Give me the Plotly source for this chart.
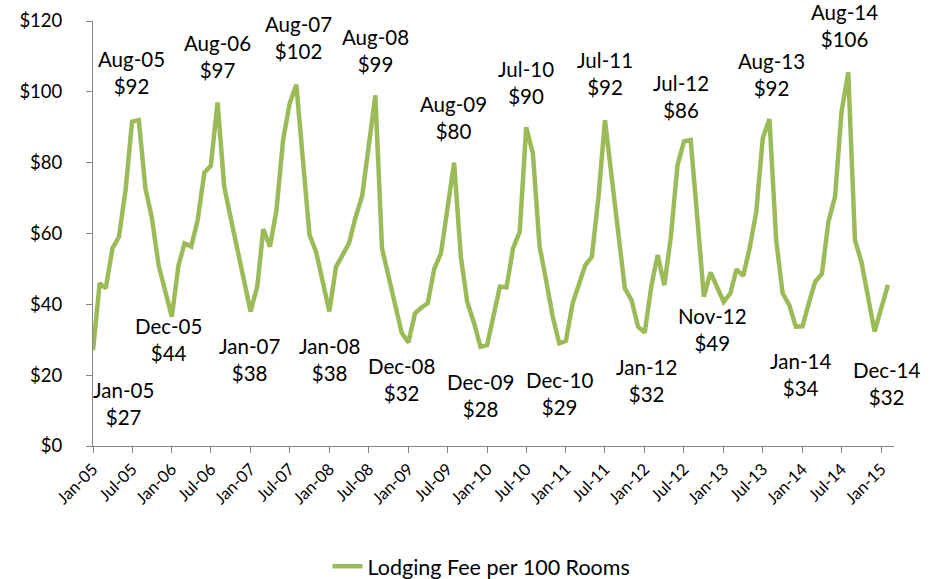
import pandas as pd
import plotly.graph_objects as go

# Monthly lodging fee per 100 rooms, Jan-2005 .. Feb-2015
fee = [
    27, 46, 44.5, 55.8, 59, 72.3, 91.6, 92, 72.7, 64.3, 51, 44,            # 2005
    36.5, 51, 57.2, 56.3, 63.8, 77.2, 79.1, 97, 73.2, 64.4, 55.6, 46.8,     # 2006
    38, 45, 61.2, 56.3, 66.6, 86.6, 96.7, 102, 80, 59.6, 54.7, 46,          # 2007
    38, 50.6, 54, 57.2, 64.5, 70.6, 84.5, 99, 55.8, 47.8, 39.3, 32,         # 2008
    29.2, 37.5, 39, 40.3, 50, 54.4, 67, 80, 53.5, 40.6, 34.8, 28,           # 2009
    28.5, 36.5, 45, 44.8, 55.8, 60.5, 90, 82.6, 56.3, 46.9, 36.5, 29,       # 2010
    29.7, 40.3, 45, 51.1, 53.4, 70.4, 92, 76, 60.3, 44.5, 41.2, 33.7,       # 2011
    32, 45.2, 53.9, 45.4, 59, 79.3, 86, 86.4, 64.3, 42.2, 49, 45,           # 2012
    40.7, 43.1, 49.9, 48, 55.8, 66.2, 86.9, 92.3, 58.2, 43.1, 39.8, 33.7,   # 2013
    33.8, 40.7, 46.4, 48.6, 63.3, 70.4, 94.4, 105.5, 58.2, 52, 42.3, 32.3,  # 2014
    38.9, 45.5,                                                            # 2015
]
months = pd.date_range("2005-01-01", periods=len(fee), freq="MS")

tick_dates = pd.date_range("2005-01-01", "2015-01-01", freq="6MS")
tick_text = [d.strftime("%b-%y") for d in tick_dates]

# Labelled points: month label and printed value
label_months = ["Jan-05", "Aug-05", "Dec-05", "Aug-06", "Jan-07", "Aug-07", "Jan-08",
                "Aug-08", "Dec-08", "Aug-09", "Dec-09", "Jul-10", "Dec-10", "Jul-11",
                "Jan-12", "Jul-12", "Nov-12", "Aug-13", "Jan-14", "Aug-14", "Dec-14"]
label_values = [27, 92, 44, 97, 38, 102, 38, 99, 32, 80, 28, 90, 29, 92, 32, 86, 49, 92, 34, 106, 32]
# label placement offsets in pixels (x, y)
label_dx = [30, -7, 3, 0, -1, 2, 0, 0, 0, -1, 0, 0, 0, 0, 2, -3, 2, 2, -2, -4, 12]
label_dy = [-53, 48, -49, 46, -48, 47, -48, 45, -47, 45, -49, 45, -50, 47, -48, 45, -57, 45, -48, 47, -52]

LINE = "#9BBB59"
AXIS = "#868686"
FONT = "Lato, 'Liberation Sans', sans-serif"

fig = go.Figure()
fig.add_trace(go.Scatter(
    x=months, y=fee, mode="lines",
    line=dict(color=LINE, width=4.5),
    name="Lodging Fee per 100 Rooms",
))

month_lookup = {d.strftime("%b-%y"): d for d in months}
for m, v, dx, dy in zip(label_months, label_values, label_dx, label_dy):
    d = month_lookup[m]
    yv = fee[list(months).index(d)]
    fig.add_annotation(
        x=d, y=yv, xref="x", yref="y",
        text=f"{m}<br>${v}", showarrow=False,
        xshift=dx, yshift=dy,
        font=dict(family=FONT, size=20.5, color="#000000"),
        align="center",
    )

fig.update_layout(
    width=940, height=579,
    margin=dict(l=93, r=46, t=21, b=133, autoexpand=False),
    paper_bgcolor="white", plot_bgcolor="white",
    font=dict(family=FONT, color="#000000"),
    showlegend=True,
    legend=dict(
        orientation="h", x=0.485, xanchor="center", y=-0.235, yanchor="top",
        font=dict(family=FONT, size=21.5, color="#000000"),
    ),
)
fig.update_xaxes(
    type="date", automargin=False,
    range=["2005-01-01", "2015-03-01"],
    tickmode="array", tickvals=tick_dates, ticktext=tick_text,
    tickangle=-45,
    tickfont=dict(family=FONT, size=16.5, color="#000000"),
    showline=True, linecolor=AXIS, linewidth=1,
    ticks="outside", ticklen=6, tickcolor=AXIS,
    showgrid=False, zeroline=False,
)
fig.update_yaxes(
    automargin=False,
    range=[0, 120], dtick=20, tickprefix="$",
    tickfont=dict(family=FONT, size=18.5, color="#000000"),
    showline=True, linecolor=AXIS, linewidth=1,
    ticks="outside", ticklen=6, tickcolor=AXIS,
    ticklabelstandoff=20,
    showgrid=False, zeroline=False,
)

# remove the default 8px page margin so the 940x579 figure fills the window
fig.write_html(
    "out.html",
    config={"displayModeBar": False},
    post_script="document.body.style.margin='0';",
)
